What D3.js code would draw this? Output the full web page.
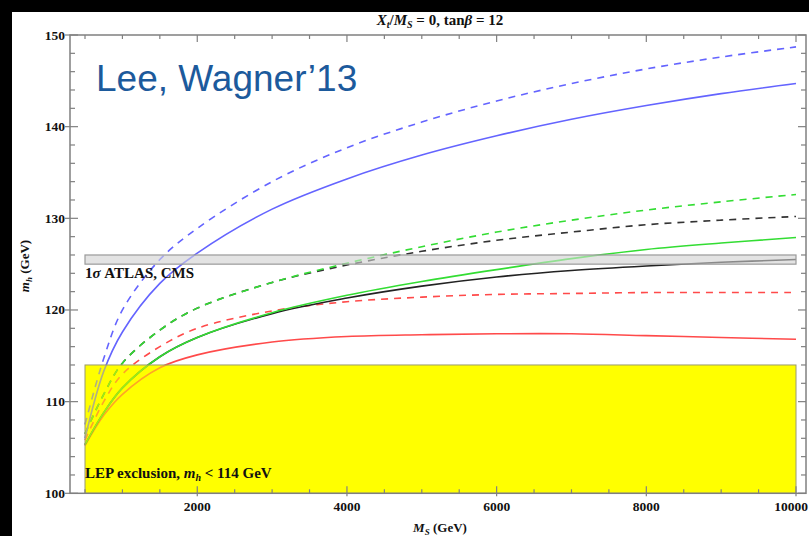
<!DOCTYPE html>
<html>
<head>
<meta charset="utf-8">
<script src="https://cdn.jsdelivr.net/npm/d3@7/dist/d3.min.js"></script>
<style>
  html, body { margin: 0; padding: 0; background: #000; }
  svg { display: block; }
  .serif { font-family: "Liberation Serif", "DejaVu Serif", "Times New Roman", serif; fill: #111; }
</style>
</head>
<body>
<svg id="chart" width="809" height="536"></svg>
<script>
// M_S grid (GeV) shared by every curve
const msGrid = [500, 750, 1000, 1500, 2000, 3000, 4000, 5000, 6000, 7000, 8000, 9000, 10000];

// m_h (GeV) along msGrid
const blueDashed  = [107.5, 114.7, 120.0, 125.5, 128.9, 134.0, 137.7, 140.5, 142.8, 144.7, 146.3, 147.6, 148.7];
const blueSolid   = [106.0, 113.3, 117.6, 122.9, 126.2, 131.0, 134.3, 136.9, 139.0, 140.8, 142.3, 143.6, 144.7];
const greenDashed = [106.5, 110.8, 114.2, 117.8, 120.2, 123.0, 125.1, 126.9, 128.5, 129.8, 130.9, 131.8, 132.6];
const blackDashed = [106.5, 110.8, 114.2, 117.8, 120.2, 123.0, 124.9, 126.4, 127.6, 128.5, 129.3, 129.8, 130.2];
const greenSolid  = [105.3, 108.8, 111.5, 114.9, 117.0, 119.7, 121.6, 123.1, 124.4, 125.6, 126.6, 127.3, 127.9];
const blackSolid  = [105.3, 108.8, 111.5, 114.9, 117.0, 119.6, 121.3, 122.6, 123.6, 124.3, 124.8, 125.2, 125.5];
const redDashed   = [105.8, 110.0, 113.0, 116.0, 118.0, 119.9, 120.9, 121.4, 121.7, 121.8, 121.9, 121.9, 121.9];
const redSolid    = [105.2, 108.5, 110.8, 113.7, 115.1, 116.5, 117.1, 117.3, 117.4, 117.4, 117.2, 117.0, 116.8];

// Shaded regions (GeV)
const lepLimit = 114;
const atlasCmsBand = [125, 126];

// Axis ticks
const xMajorTicks = [2000, 4000, 6000, 8000, 10000];
const xMinorTicks = d3.range(500, 10001, 500);
const yMajorTicks = [100, 110, 120, 130, 140, 150];
const yMinorTicks = d3.range(100, 151, 2);

const series = [
  { values: redSolid,    color: "#ff4a4a", dash: null },
  { values: redDashed,   color: "#ff4a4a", dash: "7,6" },
  { values: blackSolid,  color: "#222222", dash: null },
  { values: blackDashed, color: "#333333", dash: "7,6" },
  { values: greenSolid,  color: "#33dd33", dash: null },
  { values: greenDashed, color: "#33dd33", dash: "7,6" },
  { values: blueSolid,   color: "#6464ff", dash: null },
  { values: blueDashed,  color: "#6464ff", dash: "7,6" }
];

const svg = d3.select("#chart");

// frame of the plot
const frame = { left: 70, right: 806, top: 35, bottom: 493.3 };

const x = d3.scaleLinear().domain([500, 10000]).range([85, 796]);
const y = d3.scaleLinear().domain([100, 150]).range([frame.bottom, frame.top]);

// white page
svg.append("rect").attr("x", 12).attr("y", 12).attr("width", 809 - 12).attr("height", 536 - 12).attr("fill", "#fff");

const xMin = msGrid[0], xMax = msGrid[msGrid.length - 1];

function lepRect(sel) {
  return sel.append("rect")
    .attr("x", x(xMin)).attr("y", y(lepLimit))
    .attr("width", x(xMax) - x(xMin)).attr("height", y(100) - y(lepLimit));
}
function bandRect(sel) {
  return sel.append("rect")
    .attr("x", x(xMin)).attr("y", y(atlasCmsBand[1]))
    .attr("width", x(xMax) - x(xMin)).attr("height", y(atlasCmsBand[0]) - y(atlasCmsBand[1]));
}

// underlying fills
lepRect(svg).attr("fill", "#ffff00");
bandRect(svg).attr("fill", "#e6e6e6");

// curves
const line = d3.line()
  .x((d, i) => x(msGrid[i]))
  .y(d => y(d))
  .curve(d3.curveCatmullRom.alpha(0.5));

svg.append("g").selectAll("path").data(series).join("path")
  .attr("d", d => line(d.values))
  .attr("fill", "none")
  .attr("stroke", d => d.color)
  .attr("stroke-width", 1.6)
  .attr("stroke-dasharray", d => d.dash);

// translucent overlays so the curves look tinted inside the shaded regions
lepRect(svg).attr("fill", "#ffff00").attr("fill-opacity", 0.5)
  .attr("stroke", "#9a9a70").attr("stroke-width", 1);
bandRect(svg).attr("fill", "#e0e0e0").attr("fill-opacity", 0.55)
  .attr("stroke", "#9a9a9a").attr("stroke-width", 1.2);

// frame
const frameColor = "#808080";
svg.append("rect")
  .attr("x", frame.left).attr("y", frame.top)
  .attr("width", frame.right - frame.left).attr("height", frame.bottom - frame.top)
  .attr("fill", "none").attr("stroke", frameColor).attr("stroke-width", 1.5);

const ticks = svg.append("g").attr("stroke", frameColor).attr("stroke-width", 1.2);
// bottom and top
xMinorTicks.forEach(v => {
  const major = xMajorTicks.includes(v);
  const len = major ? 7 : 4;
  ticks.append("line").attr("x1", x(v)).attr("x2", x(v)).attr("y1", frame.bottom + (major ? 3 : 0)).attr("y2", frame.bottom - len);
  ticks.append("line").attr("x1", x(v)).attr("x2", x(v)).attr("y1", frame.top).attr("y2", frame.top + len);
});
// left and right
yMinorTicks.forEach(v => {
  const major = yMajorTicks.includes(v);
  const len = major ? 8 : 5;
  ticks.append("line").attr("y1", y(v)).attr("y2", y(v)).attr("x1", frame.left - (major ? 5 : 0)).attr("x2", frame.left + len);
  ticks.append("line").attr("y1", y(v)).attr("y2", y(v)).attr("x1", frame.right).attr("x2", frame.right - len);
});

// tick labels
svg.append("g").selectAll("text").data(yMajorTicks).join("text")
  .attr("class", "serif")
  .attr("x", 65).attr("y", d => y(d) + 4.5)
  .attr("text-anchor", "end")
  .attr("font-size", 13.5).attr("font-weight", "bold")
  .text(d => d);

svg.append("g").selectAll("text").data(xMajorTicks).join("text")
  .attr("class", "serif")
  .attr("x", d => x(d)).attr("y", 511)
  .attr("text-anchor", d => d === xMax ? "end" : "middle")
  .attr("dx", d => d === xMax ? 12 : 0)
  .attr("font-size", 13.5).attr("font-weight", "bold")
  .text(d => d);

// title
const title = svg.append("text").attr("class", "serif")
  .attr("x", 440).attr("y", 25).attr("text-anchor", "middle")
  .attr("font-size", 15).attr("font-weight", "bold");
title.append("tspan").attr("font-style", "italic").text("X");
title.append("tspan").attr("font-style", "italic").attr("font-size", 10).attr("dy", 3).text("t");
title.append("tspan").attr("dy", -3).text("/");
title.append("tspan").attr("font-style", "italic").text("M");
title.append("tspan").attr("font-style", "italic").attr("font-size", 10).attr("dy", 3).text("S");
title.append("tspan").attr("dy", -3).text(" = 0, tan");
title.append("tspan").attr("font-style", "italic").text("β");
title.append("tspan").text(" = 12");

// region labels
const atlas = svg.append("text").attr("class", "serif")
  .attr("x", 85).attr("y", 278).attr("font-size", 15).attr("font-weight", "bold");
atlas.append("tspan").text("1");
atlas.append("tspan").attr("font-style", "italic").text("σ");
atlas.append("tspan").text(" ATLAS, CMS");

const lep = svg.append("text").attr("class", "serif")
  .attr("x", 85).attr("y", 478).attr("font-size", 15).attr("font-weight", "bold");
lep.append("tspan").text("LEP exclusion, ");
lep.append("tspan").attr("font-style", "italic").text("m");
lep.append("tspan").attr("font-style", "italic").attr("font-size", 10).attr("dy", 3).text("h");
lep.append("tspan").attr("dy", -3).text(" < 114 GeV");

// axis titles
const xTitle = svg.append("text").attr("class", "serif")
  .attr("x", 440).attr("y", 532).attr("text-anchor", "middle")
  .attr("font-size", 13).attr("font-weight", "bold");
xTitle.append("tspan").attr("font-style", "italic").text("M");
xTitle.append("tspan").attr("font-style", "italic").attr("font-size", 9).attr("dy", 3).text("S");
xTitle.append("tspan").attr("dy", -3).text(" (GeV)");

const yTitle = svg.append("text").attr("class", "serif")
  .attr("transform", "translate(29,266) rotate(-90)").attr("text-anchor", "middle")
  .attr("font-size", 13).attr("font-weight", "bold");
yTitle.append("tspan").attr("font-style", "italic").text("m");
yTitle.append("tspan").attr("font-style", "italic").attr("font-size", 9).attr("dy", 3).text("h");
yTitle.append("tspan").attr("dy", -3).text(" (GeV)");

// citation
svg.append("text")
  .attr("x", 96).attr("y", 91)
  .attr("font-family", "'Liberation Sans', Arial, sans-serif")
  .attr("font-size", 37).attr("fill", "#1c5a9c")
  .text("Lee, Wagner’13");
</script>
</body>
</html>
